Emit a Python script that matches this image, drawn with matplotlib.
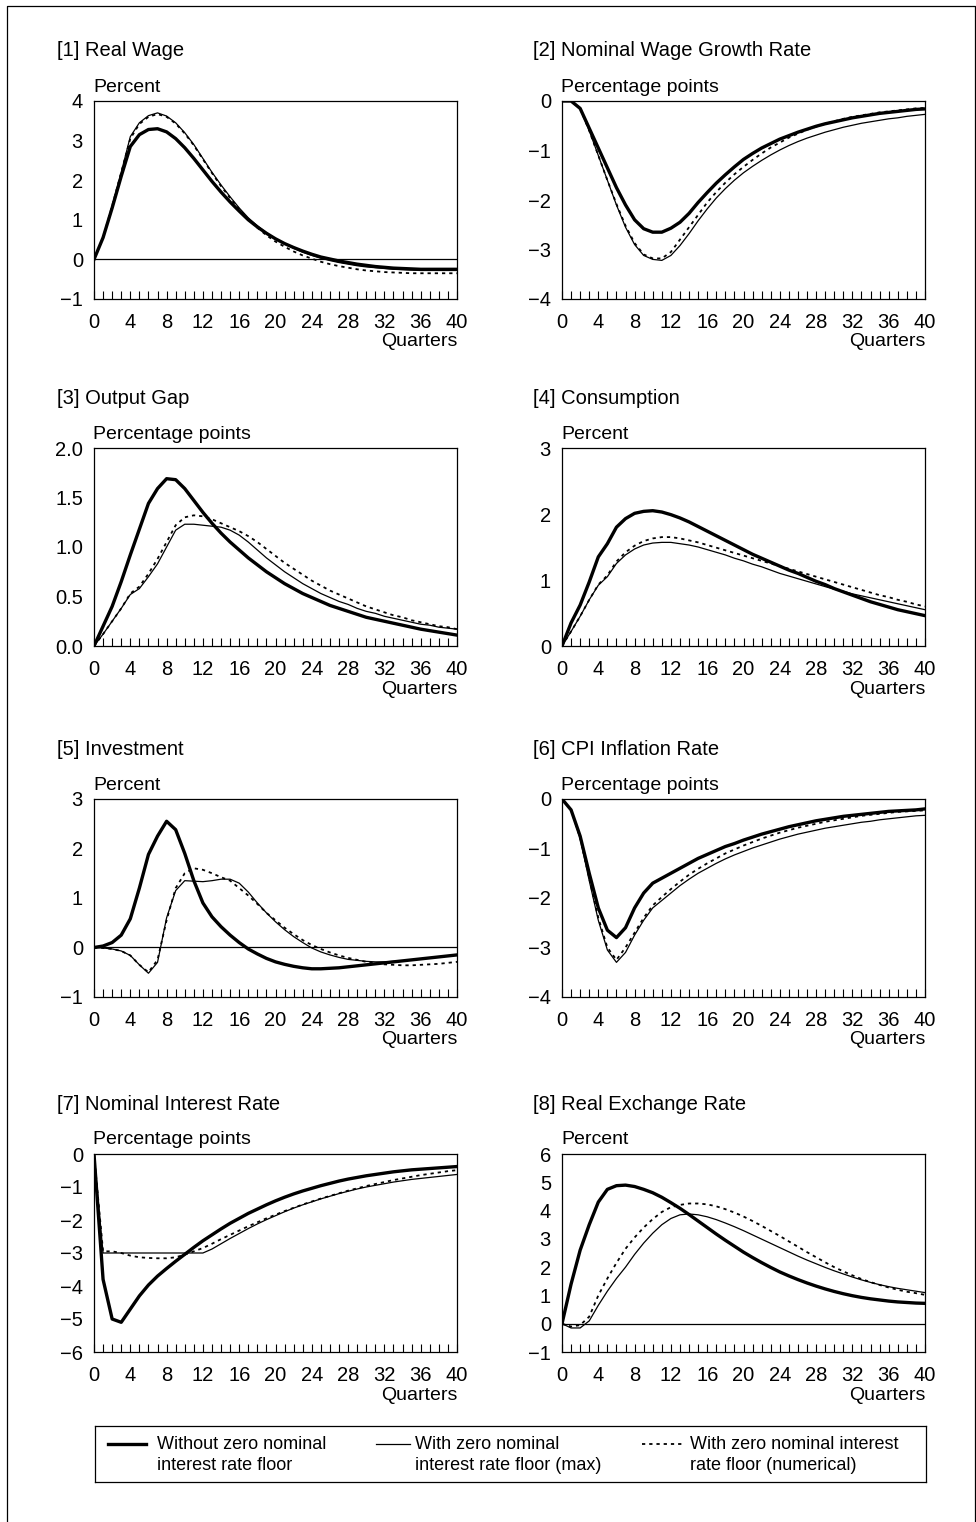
import matplotlib
matplotlib.use("Agg")
import matplotlib.pyplot as plt
import matplotlib.ticker as mt
from matplotlib.lines import Line2D

plt.rcParams["font.family"] = ["Liberation Sans", "DejaVu Sans"]

QUARTERS = list(range(41))

# [1] real wage (percent)
WAGE_NO = [0, 0.55, 1.3, 2.1, 2.85, 3.15, 3.28, 3.3, 3.22, 3.05, 2.82, 2.55, 2.26, 1.97, 1.7, 1.45,
           1.22, 1.0, 0.82, 0.66, 0.52, 0.4, 0.3, 0.21, 0.13, 0.06, 0.01, -0.04, -0.08, -0.12, -0.15,
           -0.18, -0.2, -0.22, -0.23, -0.24, -0.25, -0.25, -0.25, -0.25, -0.25]
WAGE_MAX = [0, 0.55, 1.35, 2.2, 3.1, 3.45, 3.63, 3.7, 3.62, 3.45, 3.2, 2.9, 2.55, 2.2, 1.88, 1.58,
            1.3, 1.05, 0.85, 0.67, 0.52, 0.39, 0.28, 0.18, 0.1, 0.03, -0.03, -0.08, -0.12, -0.16, -0.19,
            -0.21, -0.23, -0.25, -0.26, -0.27, -0.28, -0.28, -0.28, -0.28, -0.28]
WAGE_NUM = [0, 0.55, 1.35, 2.2, 3.05, 3.42, 3.6, 3.67, 3.6, 3.43, 3.18, 2.88, 2.53, 2.18, 1.85, 1.55,
            1.27, 1.02, 0.8, 0.61, 0.45, 0.32, 0.2, 0.1, 0.02, -0.06, -0.12, -0.17, -0.21, -0.25, -0.28,
            -0.3, -0.32, -0.33, -0.34, -0.35, -0.35, -0.35, -0.35, -0.35, -0.35]

# [2] nominal wage growth rate (percentage points)
NWG_NO = [0, 0, -0.15, -0.55, -0.95, -1.35, -1.75, -2.1, -2.4, -2.58, -2.65, -2.65, -2.57, -2.45,
          -2.27, -2.05, -1.85, -1.66, -1.49, -1.33, -1.18, -1.06, -0.95, -0.86, -0.77, -0.7, -0.63,
          -0.57, -0.51, -0.46, -0.42, -0.38, -0.34, -0.31, -0.28, -0.25, -0.23, -0.21, -0.19, -0.17, -0.16]
NWG_MAX = [0, 0, -0.15, -0.6, -1.1, -1.6, -2.1, -2.55, -2.9, -3.12, -3.2, -3.22, -3.12, -2.92, -2.68,
           -2.42, -2.18, -1.96, -1.77, -1.6, -1.45, -1.32, -1.2, -1.09, -0.99, -0.9, -0.82, -0.75, -0.69,
           -0.63, -0.58, -0.53, -0.49, -0.45, -0.42, -0.39, -0.36, -0.34, -0.31, -0.29, -0.27]
NWG_NUM = [0, 0, -0.15, -0.6, -1.1, -1.6, -2.08, -2.52, -2.87, -3.1, -3.18, -3.18, -3.05, -2.8, -2.55,
           -2.3, -2.05, -1.84, -1.65, -1.48, -1.33, -1.19, -1.06, -0.94, -0.84, -0.74, -0.66, -0.58,
           -0.52, -0.46, -0.41, -0.36, -0.32, -0.29, -0.26, -0.23, -0.21, -0.19, -0.17, -0.15, -0.14]

# [3] output gap (percentage points)
GAP_NO = [0, 0.2, 0.4, 0.65, 0.92, 1.18, 1.44, 1.59, 1.69, 1.68, 1.59, 1.47, 1.35, 1.24, 1.14, 1.05,
          0.97, 0.89, 0.82, 0.75, 0.69, 0.63, 0.58, 0.53, 0.49, 0.45, 0.41, 0.38, 0.35, 0.32, 0.29,
          0.27, 0.25, 0.23, 0.21, 0.19, 0.17, 0.155, 0.14, 0.125, 0.11]
GAP_MAX = [0, 0.12, 0.25, 0.38, 0.52, 0.58, 0.7, 0.83, 1.0, 1.17, 1.23, 1.23, 1.22, 1.21, 1.2, 1.17,
           1.12, 1.05, 0.97, 0.89, 0.82, 0.75, 0.69, 0.63, 0.58, 0.53, 0.49, 0.45, 0.42, 0.38, 0.35,
           0.33, 0.3, 0.28, 0.26, 0.24, 0.22, 0.21, 0.19, 0.18, 0.17]
GAP_NUM = [0, 0.12, 0.25, 0.38, 0.53, 0.6, 0.73, 0.88, 1.05, 1.22, 1.3, 1.32, 1.31, 1.28, 1.24, 1.2,
           1.16, 1.11, 1.05, 0.98, 0.91, 0.84, 0.78, 0.72, 0.66, 0.61, 0.56, 0.52, 0.48, 0.44, 0.4,
           0.37, 0.34, 0.31, 0.29, 0.26, 0.24, 0.22, 0.2, 0.19, 0.17]

# [4] consumption (percent)
CONS_NO = [0, 0.35, 0.62, 0.97, 1.35, 1.55, 1.8, 1.93, 2.01, 2.04, 2.05, 2.03, 1.99, 1.94, 1.88, 1.81,
           1.74, 1.67, 1.6, 1.53, 1.46, 1.39, 1.33, 1.27, 1.21, 1.15, 1.1, 1.04, 0.98, 0.93, 0.87,
           0.82, 0.77, 0.72, 0.67, 0.63, 0.59, 0.55, 0.52, 0.49, 0.46]
CONS_MAX = [0, 0.22, 0.45, 0.7, 0.92, 1.05, 1.25, 1.38, 1.47, 1.53, 1.56, 1.57, 1.57, 1.55, 1.53, 1.5,
            1.46, 1.42, 1.38, 1.33, 1.29, 1.24, 1.2, 1.15, 1.1, 1.06, 1.02, 0.98, 0.94, 0.9, 0.86,
            0.83, 0.79, 0.76, 0.73, 0.7, 0.67, 0.64, 0.61, 0.58, 0.55]
CONS_NUM = [0, 0.22, 0.45, 0.7, 0.93, 1.07, 1.28, 1.42, 1.52, 1.59, 1.63, 1.65, 1.65, 1.63, 1.6, 1.57,
            1.53, 1.49, 1.45, 1.41, 1.37, 1.33, 1.29, 1.25, 1.21, 1.17, 1.13, 1.09, 1.05, 1.01, 0.97,
            0.93, 0.89, 0.85, 0.81, 0.77, 0.74, 0.7, 0.67, 0.63, 0.6]

# [5] investment (percent)
INV_NO = [0, 0.03, 0.1, 0.25, 0.58, 1.2, 1.88, 2.25, 2.55, 2.38, 1.9, 1.35, 0.9, 0.62, 0.42, 0.25,
          0.1, -0.03, -0.13, -0.22, -0.29, -0.34, -0.38, -0.41, -0.43, -0.43, -0.42, -0.41, -0.39,
          -0.37, -0.35, -0.33, -0.31, -0.29, -0.27, -0.25, -0.23, -0.21, -0.19, -0.17, -0.15]
INV_MAX = [0, -0.01, -0.03, -0.07, -0.16, -0.35, -0.52, -0.3, 0.6, 1.15, 1.35, 1.34, 1.33, 1.35, 1.38,
           1.38, 1.3, 1.12, 0.9, 0.7, 0.52, 0.36, 0.22, 0.1, -0.01, -0.09, -0.15, -0.2, -0.24, -0.26,
           -0.28, -0.29, -0.29, -0.28, -0.27, -0.25, -0.23, -0.21, -0.19, -0.17, -0.15]
INV_NUM = [0, -0.01, -0.03, -0.07, -0.16, -0.35, -0.5, -0.25, 0.55, 1.2, 1.5, 1.6, 1.57, 1.5, 1.42,
           1.35, 1.2, 1.05, 0.88, 0.7, 0.55, 0.4, 0.27, 0.15, 0.05, -0.03, -0.1, -0.16, -0.21, -0.25,
           -0.29, -0.32, -0.34, -0.35, -0.36, -0.36, -0.35, -0.34, -0.33, -0.31, -0.29]

# [6] CPI inflation rate (percentage points)
CPI_NO = [0, -0.22, -0.75, -1.5, -2.2, -2.65, -2.8, -2.6, -2.2, -1.9, -1.7, -1.6, -1.5, -1.4, -1.3,
          -1.2, -1.12, -1.04, -0.96, -0.9, -0.83, -0.77, -0.71, -0.66, -0.61, -0.56, -0.52, -0.48,
          -0.44, -0.41, -0.38, -0.35, -0.33, -0.31, -0.29, -0.27, -0.25, -0.24, -0.23, -0.22, -0.2]
CPI_MAX = [0, -0.22, -0.8, -1.65, -2.45, -3.05, -3.3, -3.1, -2.75, -2.45, -2.2, -2.05, -1.9, -1.75,
           -1.62, -1.5, -1.4, -1.3, -1.21, -1.13, -1.06, -0.99, -0.93, -0.87, -0.81, -0.76, -0.71,
           -0.67, -0.63, -0.59, -0.56, -0.53, -0.5, -0.47, -0.45, -0.42, -0.4, -0.38, -0.36, -0.34, -0.33]
CPI_NUM = [0, -0.22, -0.78, -1.6, -2.4, -3.0, -3.25, -3.0, -2.7, -2.4, -2.15, -1.98, -1.82, -1.67,
           -1.53, -1.41, -1.3, -1.2, -1.1, -1.02, -0.94, -0.87, -0.8, -0.74, -0.68, -0.63, -0.58,
           -0.54, -0.5, -0.46, -0.43, -0.4, -0.37, -0.34, -0.32, -0.3, -0.28, -0.26, -0.25, -0.24, -0.23]

# [7] nominal interest rate (percentage points)
RATE_NO = [0, -3.8, -5.0, -5.1, -4.7, -4.3, -3.97, -3.7, -3.47, -3.25, -3.04, -2.83, -2.63, -2.45,
           -2.27, -2.1, -1.95, -1.8, -1.67, -1.54, -1.42, -1.31, -1.21, -1.12, -1.04, -0.96, -0.89,
           -0.82, -0.76, -0.71, -0.66, -0.62, -0.58, -0.54, -0.51, -0.48, -0.46, -0.44, -0.42, -0.4, -0.38]
RATE_MAX = [0, -3.0, -3.0, -3.0, -3.0, -3.0, -3.0, -3.0, -3.0, -3.0, -3.0, -3.0, -3.0, -2.88, -2.72,
            -2.56, -2.41, -2.26, -2.12, -1.99, -1.87, -1.75, -1.64, -1.54, -1.45, -1.36, -1.28, -1.2,
            -1.13, -1.06, -1.0, -0.95, -0.9, -0.85, -0.81, -0.77, -0.74, -0.71, -0.68, -0.65, -0.62]
RATE_NUM = [0, -2.95, -2.95, -3.0, -3.08, -3.13, -3.15, -3.16, -3.16, -3.13, -3.05, -2.95, -2.85,
            -2.72, -2.58, -2.45, -2.32, -2.19, -2.07, -1.95, -1.84, -1.73, -1.63, -1.53, -1.44, -1.35,
            -1.27, -1.19, -1.11, -1.04, -0.97, -0.91, -0.85, -0.79, -0.74, -0.69, -0.64, -0.6, -0.56,
            -0.52, -0.49]

# [8] real exchange rate (percent)
RER_NO = [0, 1.4, 2.6, 3.5, 4.3, 4.75, 4.88, 4.9, 4.85, 4.75, 4.63, 4.47, 4.28, 4.08, 3.86, 3.63, 3.4,
          3.17, 2.95, 2.74, 2.53, 2.34, 2.16, 1.99, 1.83, 1.69, 1.56, 1.44, 1.33, 1.23, 1.14, 1.06,
          0.99, 0.93, 0.88, 0.84, 0.8, 0.77, 0.75, 0.73, 0.72]
RER_MAX = [0, -0.15, -0.15, 0.1, 0.65, 1.15, 1.6, 2.0, 2.45, 2.85, 3.2, 3.5, 3.72, 3.85, 3.88, 3.85,
           3.78, 3.68, 3.56, 3.43, 3.29, 3.14, 2.99, 2.84, 2.69, 2.54, 2.39, 2.25, 2.12, 1.99, 1.87,
           1.76, 1.65, 1.55, 1.46, 1.38, 1.31, 1.25, 1.2, 1.15, 1.1]
RER_NUM = [0, -0.1, -0.05, 0.25, 1.0, 1.6, 2.15, 2.65, 3.05, 3.4, 3.7, 3.95, 4.12, 4.2, 4.25, 4.25,
           4.22, 4.15, 4.05, 3.93, 3.79, 3.63, 3.46, 3.28, 3.1, 2.91, 2.72, 2.53, 2.35, 2.17, 2.0,
           1.85, 1.71, 1.58, 1.47, 1.37, 1.28, 1.2, 1.13, 1.08, 1.02]

TITLES = ["[1] Real Wage", "[2] Nominal Wage Growth Rate", "[3] Output Gap", "[4] Consumption",
          "[5] Investment", "[6] CPI Inflation Rate", "[7] Nominal Interest Rate", "[8] Real Exchange Rate"]
UNITS = ["Percent", "Percentage points", "Percentage points", "Percent",
         "Percent", "Percentage points", "Percentage points", "Percent"]
SERIES = [(WAGE_NO, WAGE_MAX, WAGE_NUM), (NWG_NO, NWG_MAX, NWG_NUM), (GAP_NO, GAP_MAX, GAP_NUM),
          (CONS_NO, CONS_MAX, CONS_NUM), (INV_NO, INV_MAX, INV_NUM), (CPI_NO, CPI_MAX, CPI_NUM),
          (RATE_NO, RATE_MAX, RATE_NUM), (RER_NO, RER_MAX, RER_NUM)]
YTICKS = [[-1, 0, 1, 2, 3, 4], [-4, -3, -2, -1, 0], [0, 0.5, 1.0, 1.5, 2.0], [0, 1, 2, 3],
          [-1, 0, 1, 2, 3], [-4, -3, -2, -1, 0], [-6, -5, -4, -3, -2, -1, 0], [-1, 0, 1, 2, 3, 4, 5, 6]]
LEGEND_LABELS = ["Without zero nominal\ninterest rate floor",
                 "With zero nominal\ninterest rate floor (max)",
                 "With zero nominal interest\nrate floor (numerical)"]

W, H = 976, 1522
fig = plt.figure(figsize=(W / 100, H / 100), dpi=100)
fx = lambda px: px / W
fy = lambda py: 1 - py / H

COLS = [(94, 457), (562, 925)]
TITLE_X = [57, 533]
ROWS = [(101, 299), (448, 646), (799, 997), (1154, 1352)]
STY = [dict(color="black", lw=2.4, ls="-", zorder=4),
       dict(color="black", lw=0.9, ls="-", zorder=3),
       dict(color="black", lw=1.3, ls=(0, (1.8, 2.2)), zorder=3)]
FS = 14.5

for i, (title, unit, ser, yt) in enumerate(zip(TITLES, UNITS, SERIES, YTICKS)):
    r, c = divmod(i, 2)
    l, rt = COLS[c]
    t, b = ROWS[r]
    ax = fig.add_axes([fx(l), fy(b), (rt - l) / W, (b - t) / H])
    if yt[0] < 0 < yt[-1]:
        ax.axhline(0, color="black", lw=0.9, zorder=2)
    for vals, st in zip(ser, STY):
        ax.plot(QUARTERS, vals, **st)
    ax.set_xlim(0, 40)
    ax.set_ylim(yt[0], yt[-1])
    ax.set_xticks(range(0, 41, 4))
    ax.xaxis.set_minor_locator(mt.MultipleLocator(1))
    ax.set_yticks(yt)
    if i == 2:
        ax.yaxis.set_major_formatter(mt.FormatStrFormatter("%.1f"))
    ax.tick_params(axis="x", which="both", direction="in", length=6, width=0.8, labelsize=FS, pad=10)
    ax.tick_params(axis="y", length=0, pad=8, labelsize=FS)
    for s in ax.spines.values():
        s.set_linewidth(0.9)
    fig.text(fx(TITLE_X[c]), fy(t - 50), title, ha="left", va="center", fontsize=14.5)
    fig.text(fx(l - 1), fy(t - 14), unit, ha="left", va="center", fontsize=14)
    fig.text(fx(rt), fy(b + 43), "Quarters", ha="right", va="center", fontsize=14)

# legend box along the bottom
lax = fig.add_axes([fx(95), fy(1482), (926 - 95) / W, 56 / H])
lax.set_xlim(95, 926)
lax.set_ylim(1482, 1426)
lax.set_xticks([])
lax.set_yticks([])
for s in lax.spines.values():
    s.set_linewidth(0.9)
for (x0, x1, xt), lab, st in zip([(108, 146, 157), (376, 410, 415), (642, 684, 690)], LEGEND_LABELS, STY):
    lax.add_line(Line2D([x0, x1], [1444, 1444], color=st["color"], lw=st["lw"], ls=st["ls"]))
    lax.text(xt, 1455, lab, ha="left", va="center", fontsize=13, linespacing=1.25)

# outer frame (open at the bottom)
fig.add_artist(Line2D([fx(7), fx(7), fx(975), fx(975)], [0, fy(6), fy(6), 0],
                      transform=fig.transFigure, color="black", lw=0.9))

fig.savefig("out.png", dpi=100)
